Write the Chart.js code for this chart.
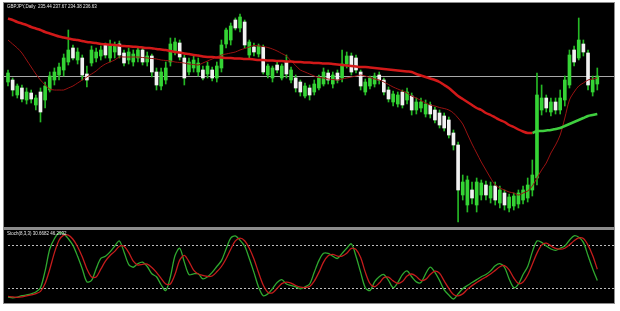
<!DOCTYPE html>
<html>
<head>
<meta charset="utf-8">
<script src="https://cdn.jsdelivr.net/npm/chart.js@4.4.1/dist/chart.umd.min.js"></script>
<style>
  body { margin: 0; background: #fff; width: 620px; height: 311px; overflow: hidden; font-family: "Liberation Sans", Arial, sans-serif; }
  #frame { position: absolute; left: 3px; top: 2px; width: 612px; height: 302px; background: #8c8c8c; }
  .pane { position: absolute; left: 1px; width: 610px; background: #000; }
  #main { top: 1px; height: 224px; }
  #stoch { top: 228px; height: 73px; }
  .pane canvas { position: absolute; left: 0; top: 0; }
  .label { position: absolute; left: 3px; top: 1px; color: #e8e8e8; font-size: 4.5px; white-space: nowrap; z-index: 2; }
</style>
</head>
<body>
<div id="frame">
  <div class="pane" id="main">
    <canvas id="mainChart" width="610" height="224"></canvas>
    <div class="label">GBPJPY,Daily&nbsp; 235.44 237.67 234.38 236.63</div>
  </div>
  <div class="pane" id="stoch">
    <canvas id="stochChart" width="610" height="73"></canvas>
    <div class="label">Stoch(8,3,3) 30.6682 46.2932</div>
  </div>
</div>
<script>
// daily candles (price units), oldest first
var open = [168,170,155,162,150,157,145,158,150,160, 170,175,180,188,202,190,192,176,187,192,
  194,205,192,198,206,197,190,188,192,200, 188,194,178,164,170,188,198,207,192,178,
  182,178,180,176,180,172,182,206,210,230, 222,228,195,203,196,203,175,172,185,172,
  188,170,172,168,154,162,158,162,166,177, 166,177,172,186,194,192,178,158,164,166,
  175,170,160,148,146,158,150,154,140,142, 136,145,140,137,134,130,117,105,55,45,
  60,45,55,65,52,64,47,57,42,44, 46,50,52,60,72,140,152,138,148,140,
  150,165,200,192,206,197,158,166];
var high = [180,172,166,165,162,160,155,162,168,178, 182,187,196,220,205,202,195,184,204,202,
  204,207,210,208,209,200,202,200,203,203, 198,196,182,182,188,212,212,210,195,192,
  194,192,184,188,183,188,210,222,227,232, 236,230,210,207,206,205,186,184,188,186,
  195,183,175,170,167,165,170,175,182,180, 178,180,200,198,197,195,180,171,174,177,
  178,172,163,159,158,160,162,157,152,152, 150,148,143,140,137,133,120,108,75,74,
  68,72,70,69,68,68,64,60,56,57, 60,64,72,90,177,165,155,152,152,160,
  174,200,204,232,210,200,174,182];
var low = [164,154,152,148,146,147,140,128,142,158, 165,170,174,185,190,186,170,163,184,188,
  190,192,188,192,192,184,186,184,188,185, 184,173,160,160,166,184,195,190,165,175,
  178,174,170,172,169,168,178,202,205,220, 218,202,192,194,193,176,172,168,177,170,
  172,167,158,154,152,150,155,160,164,166, 162,167,168,182,175,177,160,155,161,163,
  166,155,148,144,143,142,146,135,136,138, 133,132,127,122,119,112,100,28,50,38,
  46,38,50,50,47,45,42,40,38,40, 42,46,48,54,65,135,138,134,136,136,
  144,162,184,190,194,160,154,160];
var close = [177,160,164,151,158,151,152,138,164,174, 178,183,192,200,192,198,175,170,200,198,
  200,195,205,204,195,187,198,196,200,188, 194,178,165,178,182,206,208,193,172,188,
  190,187,172,184,172,184,205,220,224,222, 233,205,208,198,204,178,184,182,180,184,
  176,180,162,158,164,155,166,172,178,170, 175,170,186,194,178,180,164,168,172,174,
  170,158,151,156,155,145,158,140,148,148, 146,136,130,125,122,115,105,60,68,70,
  52,68,67,55,64,50,60,45,53,54, 57,60,65,75,155,152,142,148,140,152,
  170,195,188,210,198,165,170,174];

// slow moving average: red while falling, green after the turn
var slowMaRed = [231.5,230,228,226.5,225,223,221.5,220,218,216.5, 215,213.5,212.5,211.5,210.5,210,209,208,207.5,207,
  206,205.7,205.3,205,204.5,204,203.7,203.3,203,202.5, 202,201.8,201,200.5,200,199,198,197.5,196.5,196,
  195,194.5,193.5,193,193,192.5,192.5,192,192,191.5, 191.5,191,191,190.5,190,190,189.5,189.5,189,189,
  188.5,188.5,188,188,187.5,187.5,187,187,186.5,186.5, 186,185.5,185,184.5,184,183.5,183,183,182.5,182,
  181.5,181,180.5,180,179.5,179,178.5,178,176,174.5, 173,171.5,170,168,165,162,158,154,151,148,
  145,142,140,137,135,132.5,130,128,125,123, 120.5,118.5,117,117,
  null,null,null,null,null,null,null,null,null,null,null,null,null,null];
var slowMaGreen = Array(113).fill(null).concat([117,119,119,119.5,120,121,122,124,126,128,130,132,134,135,136]);
var fastMa = [210,206,202,197,190,183,176,170,165,161, 160,160,160,162,164,167,170,173,176,179,
  183,186,188,190,193,193,193,193,193,192.5, 192,191.5,191,190,189.5,189,188,187.5,187,186,
  185.5,185,187,189,191,193,195,196,197,198, 200,201.5,203,204.5,204,203.5,202.5,201,199,196.5,
  194,189,184.5,180,178,176,174,172.5,172,171, 170.5,170,171,172,173,174,175,174,172.5,171,
  170,168,165.5,163,161,159,157,154,152,149.5, 147,145,144,142.5,141.5,140,137,132,126,116,
  106,97,88,80,72,65,62,60,58,57, 55,57,59,64,72,80,87,97,105,115,
  132,150,158,164,167,170,171,172];

// Stochastic (8,3,3)
var stochK = [8,7,8,10,11,12.5,15,21,44,74, 88,96,95,88,79,64,47,29,31,47,
  61,64,70,78,85,70,53,49,54,56, 50,40,36,25,17,36,65,75,56,39,
  40,40,33,36,42,50,58,74,89,92, 86,78,61,42,22,10,12.5,19.5,28,32,
  26,24,22,19.5,22,26,42,58,68,68, 64,61,68,75,81,64,42,21,17,29,
  36,39,31,21,28,39,44,36,29,28, 40,49,42,31,18,11,5.5,12.5,19.5,24,
  28,32,36,39,44,51,54,49,33,21, 26,39,50,70,85,83,78,74,72,75,
  78,86,92,90,83,65,47,30.7];
var stochD = [9,8.5,7.7,8.3,9.7,11.2,12.8,16,26.7,46.3, 68.7,86,93,93,87.3,77,63.3,46.7,35.7,35.7,
  46.3,57.3,65,70.7,77.7,77.7,69.3,57.3,52,53, 53.3,48.7,42,33.7,26,26,39.3,58.7,65.3,56.7,
  45,39.7,37.7,36.3,37,42.7,50,60.7,73.7,85, 89,85.3,75,60.3,41.7,24.7,14.8,14,20,26.5,
  28.7,27.3,24,21.8,21.2,22.5,30,42,56,64.7, 66.7,64.3,64.3,68,74.7,73.3,62.3,42.3,26.7,22.3,
  27.3,34.7,35.3,30.3,26.7,29.3,37,39.7,36.3,31, 32.3,39,43.7,40.7,30.3,20,11.5,9.7,12.5,18.7,
  23.8,28,32,35.7,39.7,44.7,49.7,51.3,45.3,34.3, 26.7,28.7,38.3,53,68.3,79.3,82,78.3,74.7,73.7,
  75,79.7,85.3,89.3,88.3,79.3,65,46.3];
var stochLevels = [20, 80];

var days = open.map(function (o, i) { return String(i + 1); });
var wicks = low.map(function (l, i) { return [l, high[i]]; });
var bodies = open.map(function (o, i) { return [o, close[i]]; });
var bodyColors = open.map(function (o, i) { return close[i] >= o ? "#35d435" : "#f2f2f2"; });

// horizontal reference lines across the whole pane
var hLines = {
  id: "hLines",
  beforeDatasetsDraw: function (chart, args, opts) {
    var ctx = chart.ctx, y = chart.scales.y;
    ctx.save();
    ctx.strokeStyle = opts.color;
    ctx.lineWidth = 1;
    ctx.setLineDash(opts.dash || []);
    opts.values.forEach(function (v) {
      var py = Math.round(y.getPixelForValue(v)) + 0.5;
      ctx.beginPath();
      ctx.moveTo(opts.from || 0, py);
      ctx.lineTo(chart.width, py);
      ctx.stroke();
    });
    ctx.restore();
  }
};

var pad = { left: 4, right: 16.7, top: 0, bottom: 0 };

new Chart(document.getElementById("mainChart"), {
  type: "bar",
  data: {
    labels: days,
    datasets: [
      { type: "line", data: slowMaRed, borderColor: "#d21919", borderWidth: 2.5, pointRadius: 0, tension: 0.3, order: 0, clip: false },
      { type: "line", data: slowMaGreen, borderColor: "#3fcf3f", borderWidth: 2.5, pointRadius: 0, tension: 0.3, order: 0, clip: false },
      { type: "line", data: fastMa, borderColor: "#9a1212", borderWidth: 1, pointRadius: 0, tension: 0.3, order: 0, clip: false },
      { data: bodies, backgroundColor: bodyColors, barThickness: 3, minBarLength: 1, grouped: false, order: 1, clip: false },
      { data: wicks, backgroundColor: "#25b825", barThickness: 1, grouped: false, order: 2, clip: false }
    ]
  },
  options: {
    responsive: false,
    animation: false,
    layout: { padding: pad },
    scales: {
      x: { display: false, offset: false },
      y: { display: false, min: 23, max: 247 }
    },
    plugins: {
      legend: { display: false },
      tooltip: { enabled: false },
      hLines: { values: [close[close.length - 1]], color: "#a9a9a9" }
    }
  },
  plugins: [hLines]
});

new Chart(document.getElementById("stochChart"), {
  type: "line",
  data: {
    labels: days,
    datasets: [
      { data: stochD, borderColor: "#c41c1c", borderWidth: 1.3, pointRadius: 0, tension: 0.3, clip: false },
      { data: stochK, borderColor: "#2fa82f", borderWidth: 1.3, pointRadius: 0, tension: 0.3, clip: false }
    ]
  },
  options: {
    responsive: false,
    animation: false,
    layout: { padding: pad },
    scales: {
      x: { display: false, offset: false },
      y: { display: false, min: 0, max: 100 }
    },
    plugins: {
      legend: { display: false },
      tooltip: { enabled: false },
      hLines: { values: stochLevels, color: "#bdbdbd", dash: [2, 2], from: 4 }
    }
  },
  plugins: [hLines]
});
</script>
</body>
</html>
